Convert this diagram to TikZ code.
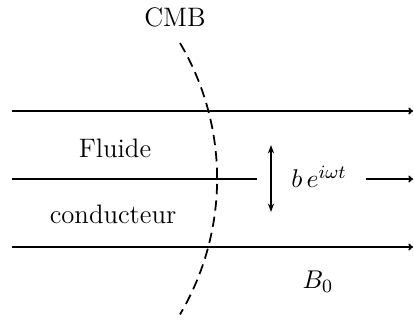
\documentclass[tikz,border=0pt]{standalone}
\usepackage{amsmath,amssymb}
\usetikzlibrary{arrows.meta}

\begin{document}
\begin{tikzpicture}[
  x=0.015cm,y=0.015cm,
  fieldline/.style={-{To[length=2pt,width=3pt]},line width=0.75pt},
  cmbline/.style={dash pattern=on 4.4pt off 2.6pt,line width=0.75pt},
  oscarrow/.style={{Stealth[length=3.6pt,width=2.6pt]}-{Stealth[length=3.6pt,width=2.6pt]},line width=0.75pt},
  lbl/.style={font=\fontsize{11.4}{14}\selectfont,inner sep=1pt},
]
\useasboundingbox (0,0) rectangle (414,322);
\coordinate (top1) at (12,211);  \coordinate (top2) at (413,211);
\coordinate (mid1) at (12,143);  \coordinate (mid2) at (257,143);
\coordinate (mid3) at (366,143); \coordinate (mid4) at (413,143);
\coordinate (bot1) at (12,75);   \coordinate (bot2) at (413,75);
\coordinate (cmbtop) at (180,279);
\coordinate (osctop) at (271,177); \coordinate (oscbot) at (271,110);
\node[lbl] (cmb)   at (175,305) {CMB};
\node[lbl] (fluide) at (115,174) {Fluide};
\node[lbl] (cond)  at (113,108) {conducteur};
\node[lbl] (pert)  at (319,145) {$b\,e^{i\omega t}$};
\node[lbl] (bzero) at (318,40)  {$B_0$};
\draw[fieldline] (top1)--(top2);
\draw[line width=0.75pt] (mid1)--(mid2); \draw[fieldline] (mid3)--(mid4);
\draw[fieldline] (bot1)--(bot2);
\draw[oscarrow] (osctop)--(oscbot);
\draw[cmbline] (cmbtop) arc[start angle=30.6,end angle=-30.6,radius=266.6];
\end{tikzpicture}
\end{document}
